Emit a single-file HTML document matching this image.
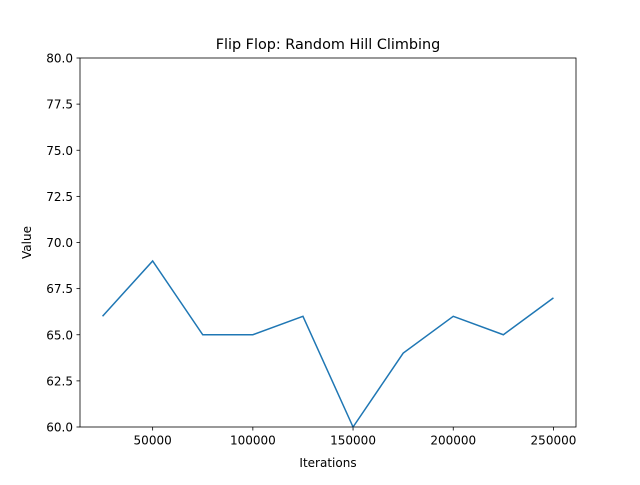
<!DOCTYPE html>
<html><head><meta charset="utf-8"><style>
body{margin:0;background:#fff;font-family:"Liberation Sans","DejaVu Sans",sans-serif;}
svg text{font-family:"DejaVu Sans","Liberation Sans",sans-serif;font-size:12px;fill:#000;}
</style></head><body>
<svg id="chart" width="640" height="480">
<rect width="640" height="480" fill="#fff"/>
<text x="328" y="49" text-anchor="middle" style="font-size:14.4px">Flip Flop: Random Hill Climbing</text>
<g id="ticks"></g>
<polyline id="line" fill="none" stroke="#1f77b4" stroke-width="1.5"/>
<rect x="80" y="58" width="496" height="369" fill="none" stroke="#000" stroke-width="0.8"/>
<text x="328" y="467" text-anchor="middle">Iterations</text>
<text transform="translate(31,242.5) rotate(-90)" text-anchor="middle">Value</text>
</svg>
<script>
const iterations=[25000,50000,75000,100000,125000,150000,175000,200000,225000,250000];
const values=[66,69,65,65,66,60,64,66,65,67];
const xTicks=[50000,100000,150000,200000,250000];
const yTicks=[60,62.5,65,67.5,70,72.5,75,77.5,80];
const L=80,R=576,T=58,B=427;
const xMin=13750,xMax=261250,yMin=60,yMax=80;
const xs=v=>L+(v-xMin)/(xMax-xMin)*(R-L);
const ys=v=>B-(v-yMin)/(yMax-yMin)*(B-T);
const NS="http://www.w3.org/2000/svg";
const g=document.getElementById('ticks');
xTicks.forEach(t=>{
  const l=document.createElementNS(NS,'line');
  l.setAttribute('x1',xs(t));l.setAttribute('x2',xs(t));l.setAttribute('y1',B);l.setAttribute('y2',B+3.5);l.setAttribute('stroke','#000');l.setAttribute('stroke-width','0.8');
  
  
  g.appendChild(l);
  const tx=document.createElementNS(NS,'text');
  tx.setAttribute('x',xs(t));tx.setAttribute('y',B+17.5);tx.setAttribute('text-anchor','middle');tx.textContent=t;
  
  
  g.appendChild(tx);
});
yTicks.forEach(t=>{
  const l=document.createElementNS(NS,'line');
  l.setAttribute('x1',L-3.5);l.setAttribute('x2',L);l.setAttribute('y1',ys(t));l.setAttribute('y2',ys(t));l.setAttribute('stroke','#000');l.setAttribute('stroke-width','0.8');
  
  
  g.appendChild(l);
  const tx=document.createElementNS(NS,'text');
  tx.setAttribute('x',L-7);tx.setAttribute('y',ys(t)+4.5);tx.setAttribute('text-anchor','end');tx.textContent=t.toFixed(1);
  
  
  g.appendChild(tx);
});
document.getElementById('line').setAttribute('points',iterations.map((x,i)=>xs(x)+','+ys(values[i])).join(' '));
</script>
</body></html>
